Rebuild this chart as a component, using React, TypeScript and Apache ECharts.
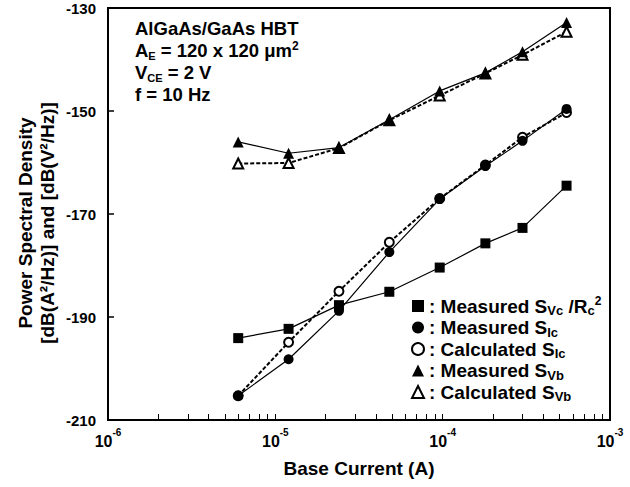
import React, { useEffect, useRef } from "react";
import * as echarts from "echarts";

// ---- data ----
const baseCurrent = [6e-6, 1.2e-5, 2.4e-5, 4.8e-5, 9.6e-5, 1.8e-4, 3.0e-4, 5.5e-4];
const svcMeasured = [-194.1, -192.3, -187.7, -185.1, -180.4, -175.7, -172.7, -164.5];
const sicMeasured = [-205.3, -198.2, -188.8, -177.4, -167.1, -160.7, -155.8, -149.6];
const sicCalculated = [-205.3, -194.9, -185.0, -175.5, -167.0, -160.5, -155.1, -150.3];
const svbMeasured = [-156.0, -158.2, -157.1, -151.7, -146.1, -142.6, -138.5, -132.8];
const svbCalculated = [-160.2, -160.1, -157.2, -151.8, -147.0, -142.7, -139.1, -134.6];

const yTickLabels = [-210, -190, -170, -150, -130];
const yInnerTicks = [-190, -170, -150];
const xMajorTicks = [1e-6, 1e-5, 1e-4, 1e-3];
const xTickValues = [
  1e-6, 2e-6, 3e-6, 4e-6, 5e-6, 6e-6, 7e-6, 8e-6, 9e-6,
  1e-5, 2e-5, 3e-5, 4e-5, 5e-5, 6e-5, 7e-5, 8e-5, 9e-5,
  1e-4, 2e-4, 3e-4, 4e-4, 5e-4, 6e-4, 7e-4, 8e-4, 9e-4, 1e-3,
];

const seriesNames = [
  "Measured S_Vc/Rc2",
  "Measured S_Ic",
  "Calculated S_Ic",
  "Measured S_Vb",
  "Calculated S_Vb",
];
const legendRichText: Record<string, string> = {
  "Measured S_Vc/Rc2": "{t|: Measured S}{s|Vc}{t| /R}{s|c}{p|2}",
  "Measured S_Ic": "{t|: Measured S}{s|Ic}",
  "Calculated S_Ic": "{t|: Calculated S}{s|Ic}",
  "Measured S_Vb": "{t|: Measured S}{s|Vb}",
  "Calculated S_Vb": "{t|: Calculated S}{s|Vb}",
};

const FONT = "'Liberation Sans', Arial, Helvetica, sans-serif";

export default function App() {
  const ref = useRef<HTMLDivElement>(null);
  useEffect(() => {
    if (!ref.current) return;
    const chart = echarts.init(ref.current, null, { renderer: "svg" });
    const pairs = (ys: number[]) => baseCurrent.map((x, i) => [x, ys[i]]);

    const solid = { color: "#000", width: 1.2, type: "solid" as const };
    const dashed = { color: "#000", width: 2, type: [4, 2] as any };

    const option: any = {
      animation: false,
      backgroundColor: "#fff",
      grid: {
        left: 108,
        right: 20,
        top: 8,
        bottom: 67,
        show: true,
        borderColor: "#000",
        borderWidth: 2,
        backgroundColor: "transparent",
      },
      xAxis: {
        type: "log",
        logBase: 10,
        min: xMajorTicks[0],
        max: xMajorTicks[xMajorTicks.length - 1],
        axisLine: { show: true, lineStyle: { color: "#000", width: 2 } },
        axisTick: {
          show: true,
          inside: true,
          length: 6,
          customValues: xTickValues,
          lineStyle: { color: "#000", width: 1 },
        },
        splitLine: { show: false },
        axisLabel: {
          margin: 7,
          formatter: (v: number) => {
            const e = Math.round(Math.log10(v));
            return "{b|10}{e|" + e + "}";
          },
          rich: {
            b: { fontSize: 16, fontWeight: "bold", fontFamily: FONT, color: "#000", lineHeight: 28, verticalAlign: "middle" },
            e: { fontSize: 10, fontWeight: "bold", fontFamily: FONT, color: "#000", lineHeight: 8, verticalAlign: "top" },
          },
        },
        name: "Base Current (A)",
        nameLocation: "middle",
        nameGap: 39,
        nameTextStyle: { fontSize: 19, fontWeight: "bold", fontFamily: FONT, color: "#000" },
      },
      yAxis: {
        type: "value",
        min: yTickLabels[0],
        max: yTickLabels[yTickLabels.length - 1],
        axisLine: { show: true, lineStyle: { color: "#000", width: 2 } },
        axisTick: {
          show: true,
          inside: true,
          length: 6,
          customValues: yInnerTicks,
          lineStyle: { color: "#000", width: 1.5 },
        },
        splitLine: { show: false },
        axisLabel: {
          customValues: yTickLabels,
          margin: 12,
          fontSize: 15,
          fontWeight: "bold",
          fontFamily: FONT,
          color: "#000",
        },
      },
      legend: {
        orient: "vertical",
        left: 406,
        top: 290,
        itemWidth: 12,
        itemHeight: 12,
        itemGap: 1,
        selectedMode: false,
        data: [
          { name: seriesNames[0], icon: "rect" },
          { name: seriesNames[1], icon: "circle" },
          { name: seriesNames[2], icon: "emptyCircle" },
          { name: seriesNames[3], icon: "triangle" },
          { name: seriesNames[4], icon: "emptyTriangle" },
        ],
        formatter: (name: string) => legendRichText[name] || name,
        textStyle: {
          rich: {
            t: { fontSize: 19, fontWeight: "bold", fontFamily: FONT, color: "#000", lineHeight: 22, verticalAlign: "middle" },
            s: { fontSize: 13, fontWeight: "bold", fontFamily: FONT, color: "#000", lineHeight: 8, verticalAlign: "bottom" },
            p: { fontSize: 12, fontWeight: "bold", fontFamily: FONT, color: "#000", lineHeight: 10, verticalAlign: "top" },
          },
        },
      },
      graphic: [
        {
          type: "text",
          left: 135,
          top: 19,
          style: {
            text:
              "{t|AlGaAs/GaAs HBT}\n{t|A}{s|E}{t| = 120 x 120 \u03bcm}{p|2}\n{t|V}{s|CE}{t| = 2 V}\n{t|f = 10 Hz}",
            rich: {
              t: { fontSize: 18.5, fontWeight: "bold", fontFamily: FONT, fill: "#000", lineHeight: 22, verticalAlign: "middle" },
              s: { fontSize: 11, fontWeight: "bold", fontFamily: FONT, fill: "#000", lineHeight: 8, verticalAlign: "bottom" },
              p: { fontSize: 12, fontWeight: "bold", fontFamily: FONT, fill: "#000", lineHeight: 10, verticalAlign: "top" },
            },
          },
        },
        {
          type: "text",
          x: 36,
          y: 223,
          rotation: Math.PI / 2,
          style: {
            text: "Power Spectral Density\n[dB(A\u00b2/Hz)] and [dB(V\u00b2/Hz)]",
            font: "bold 19px " + FONT,
            fill: "#000",
            align: "center",
            verticalAlign: "middle",
            textAlign: "center",
            textVerticalAlign: "middle",
            lineHeight: 22,
          },
        },
      ],
      series: [
        {
          name: seriesNames[2],
          type: "line",
          data: pairs(sicCalculated),
          symbol: "emptyCircle",
          symbolSize: 9,
          color: "#000",
          itemStyle: { color: "#000", borderWidth: 1.5 },
          lineStyle: dashed,
          z: 2,
        },
        {
          name: seriesNames[4],
          type: "line",
          data: pairs(svbCalculated),
          symbol: "emptyTriangle",
          symbolSize: 10,
          color: "#000",
          itemStyle: { color: "#000", borderWidth: 1.5 },
          lineStyle: dashed,
          z: 2,
        },
        {
          name: seriesNames[0],
          type: "line",
          data: pairs(svcMeasured),
          symbol: "rect",
          symbolSize: 10,
          color: "#000",
          itemStyle: { color: "#000" },
          lineStyle: solid,
          z: 3,
        },
        {
          name: seriesNames[1],
          type: "line",
          data: pairs(sicMeasured),
          symbol: "circle",
          symbolSize: 10,
          color: "#000",
          itemStyle: { color: "#000" },
          lineStyle: solid,
          z: 3,
        },
        {
          name: seriesNames[3],
          type: "line",
          data: pairs(svbMeasured),
          symbol: "triangle",
          symbolSize: 11,
          color: "#000",
          itemStyle: { color: "#000" },
          lineStyle: solid,
          z: 3,
        },
      ],
    };
    chart.setOption(option);
    return () => chart.dispose();
  }, []);
  return (
    <div
      ref={ref}
      style={{ position: "fixed", left: 0, top: 0, width: 630, height: 487, background: "#fff" }}
    />
  );
}
